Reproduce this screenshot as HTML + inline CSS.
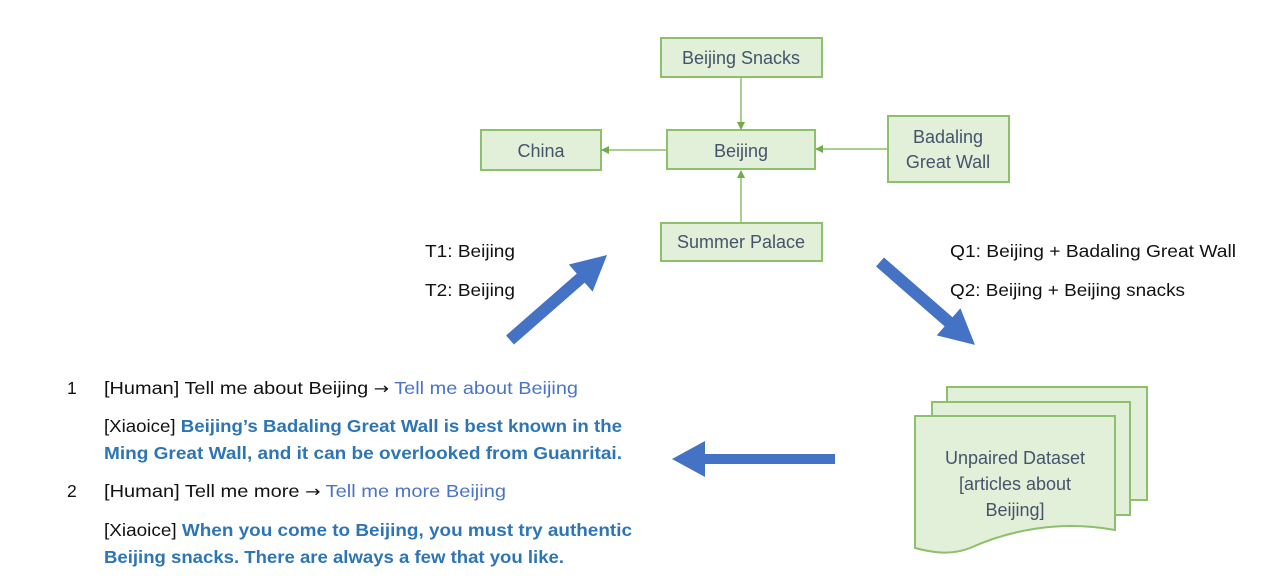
<!DOCTYPE html>
<html><head><meta charset="utf-8"><style>
html,body{margin:0;padding:0;background:#fff;}
svg{display:block;font-family:"Liberation Sans",sans-serif;}
</style></head><body>
<svg width="1264" height="588" viewBox="0 0 1264 588">
<defs>
<marker id="g" markerWidth="8" markerHeight="8" refX="7" refY="4" orient="auto" markerUnits="userSpaceOnUse"><path d="M0,0 L8,4 L0,8 z" fill="#70ad47"/></marker>
</defs>
<g fill="#e2efd9" stroke="#8cc06a" stroke-width="2">
<rect x="661" y="38" width="161" height="39"/>
<rect x="667" y="130" width="148" height="39"/>
<rect x="481" y="130" width="120" height="40"/>
<rect x="888" y="116" width="121" height="66"/>
<rect x="661" y="223" width="161" height="38"/>
</g>
<g stroke="#8cc06a" stroke-width="1.5">
<line x1="741" y1="77" x2="741" y2="129" marker-end="url(#g)"/>
<line x1="741" y1="223" x2="741" y2="171" marker-end="url(#g)"/>
<line x1="888" y1="149" x2="816" y2="149" marker-end="url(#g)"/>
<line x1="667" y1="150" x2="602" y2="150" marker-end="url(#g)"/>
</g>
<g fill="#44546a" font-size="18" text-anchor="middle">
<text x="741" y="64">Beijing Snacks</text>
<text x="741" y="157">Beijing</text>
<text x="541" y="157">China</text>
<text x="948" y="143">Badaling</text>
<text x="948" y="168">Great Wall</text>
<text x="741" y="248">Summer Palace</text>
</g>
<g fill="#e2efd9" stroke="#8cc06a" stroke-width="2">
<path d="M947,387 H1147 V500 H947 z"/>
<path d="M932,402 H1130 V515 H932 z"/>
<path d="M915,416 H1115 V530 C1060,520 1010,530 970,548 C950,556 930,552 915,548 z"/>
</g>
<g fill="#44546a" font-size="18" text-anchor="middle">
<text x="1015" y="464">Unpaired Dataset</text>
<text x="1015" y="490">[articles about</text>
<text x="1015" y="516">Beijing]</text>
</g>
<g fill="#4472c4">
<path transform="translate(510,340) rotate(-41.2)" d="M0,-6 L94,-6 L94,-18 L129,0 L94,18 L94,6 L0,6 z"/>
<path transform="translate(880,262) rotate(41.1)" d="M0,-6 L91,-6 L91,-18 L126,0 L91,18 L91,6 L0,6 z"/>
<path d="M835,454 H705 V441 L672,459 L705,477 V464 H835 z"/>
</g>
<g fill="#111" font-size="17.5">
<text x="425" y="257" textLength="90" lengthAdjust="spacingAndGlyphs">T1: Beijing</text>
<text x="425" y="296" textLength="90" lengthAdjust="spacingAndGlyphs">T2: Beijing</text>
<text x="950" y="257" textLength="286" lengthAdjust="spacingAndGlyphs">Q1: Beijing + Badaling Great Wall</text>
<text x="950" y="296" textLength="235" lengthAdjust="spacingAndGlyphs">Q2: Beijing + Beijing snacks</text>
<text x="67" y="394">1</text>
<text x="104" y="394" textLength="474" lengthAdjust="spacingAndGlyphs">[Human] Tell me about Beijing <tspan font-family="DejaVu Sans" font-size="16">→</tspan> <tspan fill="#4a74c8">Tell me about Beijing</tspan></text>
<text x="104" y="432" textLength="518" lengthAdjust="spacingAndGlyphs">[Xiaoice] <tspan fill="#2e75b6" font-weight="bold">Beijing’s Badaling Great Wall is best known in the</tspan></text>
<text x="104" y="459" textLength="518" lengthAdjust="spacingAndGlyphs" fill="#2e75b6" font-weight="bold">Ming Great Wall, and it can be overlooked from Guanritai.</text>
<text x="67" y="497">2</text>
<text x="104" y="497" textLength="402" lengthAdjust="spacingAndGlyphs">[Human] Tell me more <tspan font-family="DejaVu Sans" font-size="16">→</tspan> <tspan fill="#4a74c8">Tell me more Beijing</tspan></text>
<text x="104" y="536" textLength="528" lengthAdjust="spacingAndGlyphs">[Xiaoice] <tspan fill="#2e75b6" font-weight="bold">When you come to Beijing, you must try authentic</tspan></text>
<text x="104" y="563" textLength="460" lengthAdjust="spacingAndGlyphs" fill="#2e75b6" font-weight="bold">Beijing snacks. There are always a few that you like.</text>
</g>
</svg>
</body></html>
